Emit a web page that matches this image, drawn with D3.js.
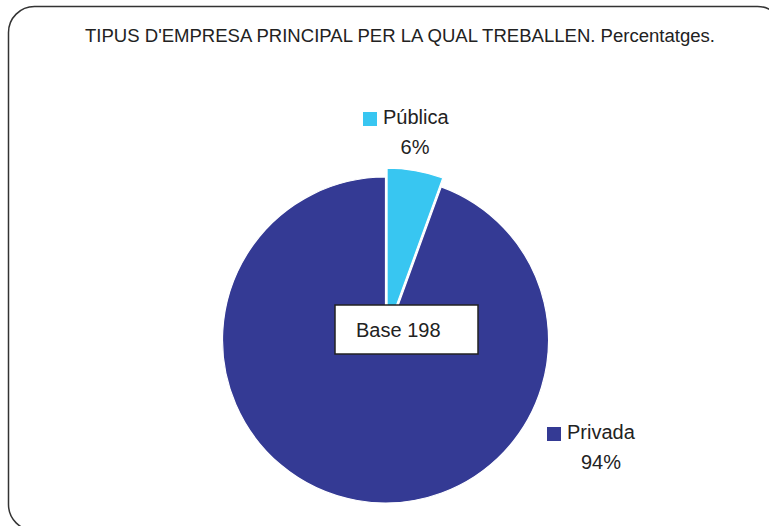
<!DOCTYPE html>
<html>
<head>
<meta charset="utf-8">
<script src="https://cdn.jsdelivr.net/npm/d3@7/dist/d3.min.js"></script>
<style>
  html, body { margin: 0; padding: 0; background: #fff; }
  svg { display: block; }
</style>
</head>
<body>
<svg id="chart" width="769" height="526"></svg>
<script>
// ---- data ----
const categories = ["Pública", "Privada"];
const counts = [11, 187];
const percentLabels = ["6%", "94%"];
const colors = ["#38C6F1", "#343A94"];
const baseLabel = "Base 198";
const titleText = "TIPUS D'EMPRESA PRINCIPAL PER LA QUAL TREBALLEN. Percentatges.";

// ---- layout ----
const W = 769, H = 526;
const cx = 385.5, cy = 340, R = 163;
const explode = [9, 0];
// label anchors (left of legend square, baseline of name line)
const labelPos = [
  { x: 363, y: 124 },
  { x: 547, y: 439 }
];

const svg = d3.select("#chart");

// frame
svg.append("rect")
  .attr("x", 8.5).attr("y", 6.5)
  .attr("width", 775).attr("height", 524)
  .attr("rx", 26).attr("ry", 26)
  .attr("fill", "#fff")
  .attr("stroke", "#333")
  .attr("stroke-width", 1.5);

// title
svg.append("text")
  .attr("x", 400).attr("y", 42)
  .attr("text-anchor", "middle")
  .attr("font-family", "'Liberation Sans Narrow', 'Arial Narrow', 'Liberation Sans', Arial, sans-serif")
  .attr("font-size", 18)
  .attr("fill", "#222")
  .attr("textLength", 630)
  .attr("lengthAdjust", "spacingAndGlyphs")
  .text(titleText);

// pie
const data = categories.map((c, i) => ({ name: c, value: counts[i], color: colors[i], pct: percentLabels[i], explode: explode[i], pos: labelPos[i] }));
const pie = d3.pie().sort(null).value(d => d.value).startAngle(0).endAngle(2 * Math.PI);
const arc = d3.arc().innerRadius(0).outerRadius(R);
const arcs = pie(data);

const g = svg.append("g").attr("transform", `translate(${cx},${cy})`);
g.selectAll("path.slice")
  .data(arcs)
  .join("path")
  .attr("class", "slice")
  .attr("d", arc)
  .attr("fill", d => d.data.color)
  .attr("stroke", "#fff")
  .attr("stroke-width", 1.2)
  .attr("transform", d => {
    const mid = (d.startAngle + d.endAngle) / 2;
    const dx = Math.sin(mid) * d.data.explode;
    const dy = -Math.cos(mid) * d.data.explode;
    return `translate(${dx},${dy})`;
  });

// labels
const font = "'Liberation Sans', Arial, Helvetica, sans-serif";
const lab = svg.selectAll("g.lab").data(data).join("g").attr("class", "lab")
  .attr("transform", d => `translate(${d.pos.x},${d.pos.y})`);
lab.append("rect")
  .attr("x", 0).attr("y", -12)
  .attr("width", 14).attr("height", 14)
  .attr("fill", d => d.color);
lab.append("text")
  .attr("x", 20).attr("y", 0)
  .attr("font-family", font)
  .attr("font-size", 20)
  .attr("fill", "#222")
  .text(d => d.name);
lab.append("text")
  .attr("x", d => d.name === "Pública" ? 52 : 54)
  .attr("y", 30)
  .attr("text-anchor", "middle")
  .attr("font-family", font)
  .attr("font-size", 20)
  .attr("fill", "#222")
  .text(d => d.pct);

// base box
const bx = 335, by = 305, bw = 143, bh = 49;
svg.append("rect")
  .attr("x", bx).attr("y", by)
  .attr("width", bw).attr("height", bh)
  .attr("fill", "#fff")
  .attr("stroke", "#222")
  .attr("stroke-width", 1.5);
svg.append("text")
  .attr("x", bx + 21).attr("y", by + 32)
  .attr("font-family", font)
  .attr("font-size", 20)
  .attr("fill", "#222")
  .text(baseLabel);
</script>
</body>
</html>
